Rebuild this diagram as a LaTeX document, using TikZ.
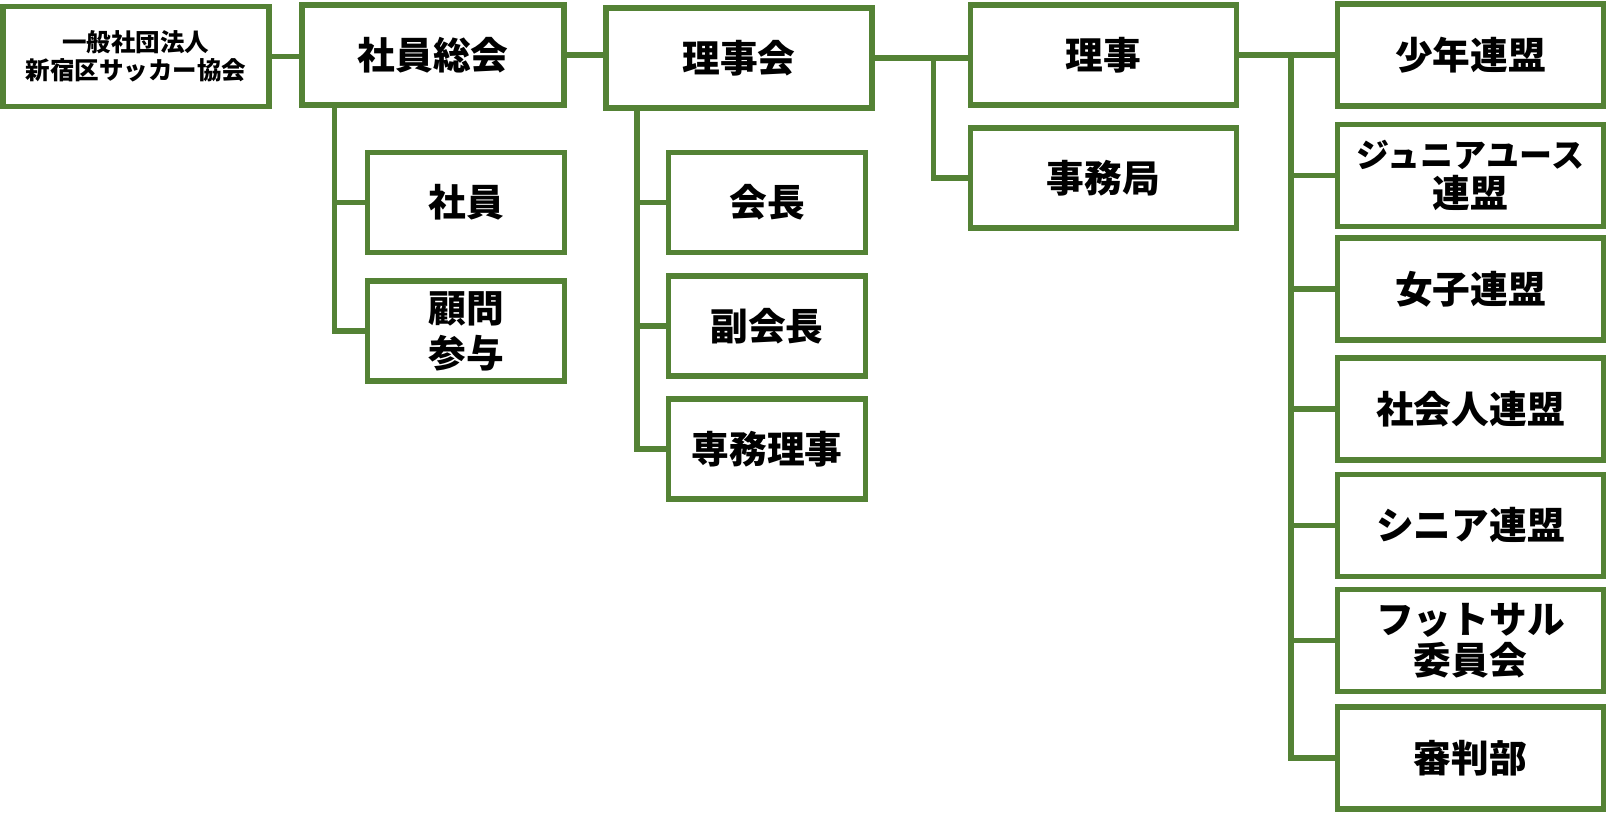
\documentclass[tikz,border=0pt]{standalone}
\usepackage{fontspec}
\setmainfont{Noto Sans CJK JP}
\usepackage{tikz}
\usetikzlibrary{positioning,calc}
\definecolor{mygreen}{RGB}{84,130,53}

\tikzset{
  orgbox/.style={draw=mygreen, line width=2.75pt, fill=white, align=center,
    inner sep=0pt, minimum height=50pt,
    font=\bfseries\fontsize{18.85}{22.5}\selectfont},
  widebox/.style={orgbox, minimum width=133pt},
  smallbox/.style={orgbox, minimum width=98.5pt},
  leaguebox/.style={orgbox, minimum width=133pt, minimum height=51pt},
  link/.style={mygreen, line width=2.75pt}
}

\begin{document}
\begin{tikzpicture}[x=0.5pt, y=-0.5pt]
  \useasboundingbox (0,0) rectangle (1608,813);

  % top row
  \node[widebox, font=\bfseries\fontsize{12.25}{13.85}\selectfont](kyokai) at (136,56.5)
    {一般社団法人\\新宿区サッカー協会};
  \node[widebox, minimum width=131pt](sokai) at (433,55){社員総会};
  \node[widebox](rijikai) at (739,58){理事会};
  \node[widebox](riji) at (1103.5,55){理事};
  \node[widebox](jimukyoku) at (1103.5,178){事務局};

  % under sokai / rijikai
  \node[smallbox](shain) at (466,202.5){社員};
  \node[smallbox](komon) at (466,331){顧問\\参与};
  \node[smallbox](kaicho) at (767,202.5){会長};
  \node[smallbox](fukukaicho) at (767,326){副会長};
  \node[smallbox](senmu) at (767,449){専務理事};

  % leagues
  \node[leaguebox](shonen) at (1470.5,55){少年連盟};
  \node[leaguebox, font=\bfseries\fontsize{18.85}{20}\selectfont](junior) at (1470.5,175.5)
    {{\fontsize{16.5}{20}\selectfont ジュニアユース}\\連盟};
  \node[leaguebox](joshi) at (1470.5,289){女子連盟};
  \node[leaguebox](shakaijin) at (1470.5,409){社会人連盟};
  \node[leaguebox](senior) at (1470.5,525.5){シニア連盟};
  \node[leaguebox, font=\bfseries\fontsize{18.85}{20.5}\selectfont](futsal) at (1470.5,640.5)
    {フットサル\\委員会};
  \node[leaguebox](shinpan) at (1470.5,758){審判部};

  % connectors
  \draw[link](kyokai.east) -- (kyokai.east -| sokai.west);
  \draw[link](sokai.east) -- (sokai.east -| rijikai.west);
  \draw[link]([xshift=17.7pt]sokai.south west) |- (shain.west);
  \draw[link]([xshift=17.7pt]sokai.south west) |- (komon.west);
  \draw[link]([xshift=16.75pt]rijikai.south west) |- (kaicho.west);
  \draw[link]([xshift=16.75pt]rijikai.south west) |- (fukukaicho.west);
  \draw[link]([xshift=16.75pt]rijikai.south west) |- (senmu.west);
  \draw[link](rijikai.east) -- (rijikai.east -| riji.west);
  \draw[link]([xshift=29.25pt]rijikai.east) |- (jimukyoku.west);
  \coordinate (branch) at ([xshift=25.75pt]riji.east);
  \draw[link](riji.east) -- (shonen.west);
  \foreach \n in {junior,joshi,shakaijin,senior,futsal,shinpan}
    \draw[link](branch) |- (\n.west);
\end{tikzpicture}
\end{document}
